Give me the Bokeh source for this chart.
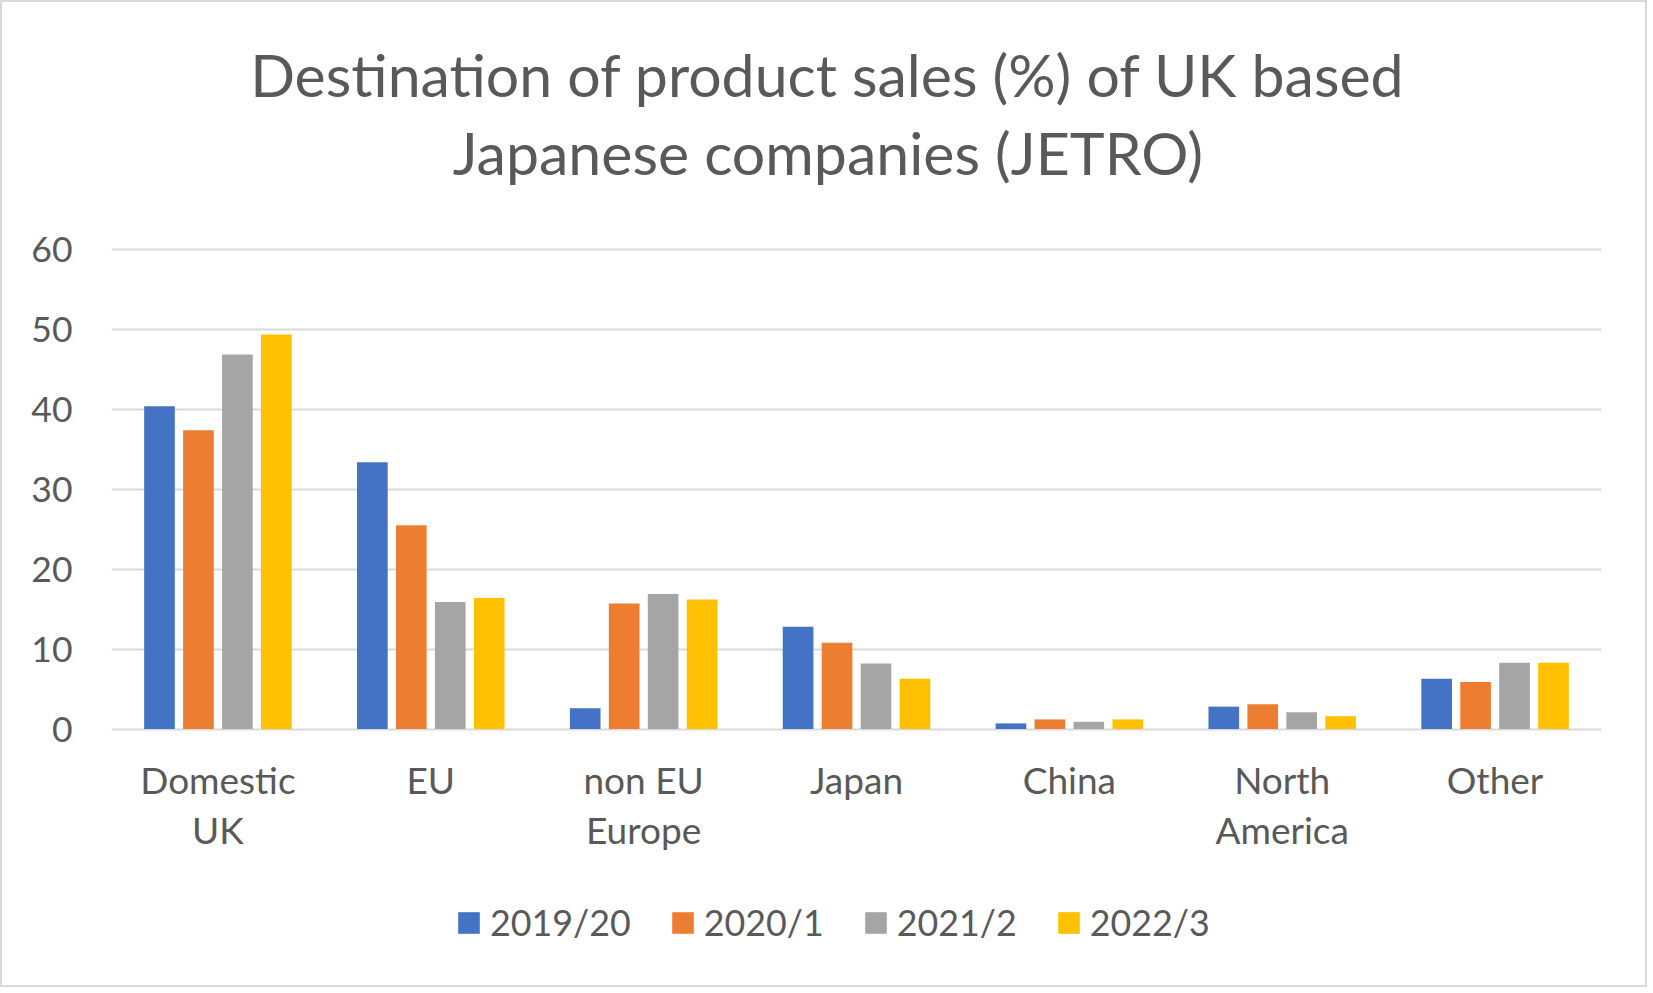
from bokeh.plotting import figure
from bokeh.models import (ColumnDataSource, FactorRange, Range1d, FixedTicker,
                          Legend, LegendItem, Label)
from bokeh.transform import dodge
from bokeh.embed import file_html
from bokeh.resources import INLINE

categories = ["Domestic\nUK", "EU", "non EU\nEurope", "Japan", "China", "North\nAmerica", "Other"]
series_names = ["2019/20", "2020/1", "2021/2", "2022/3"]
s2019_20 = [40.4, 33.4, 2.6, 12.8, 0.7, 2.8, 6.3]
s2020_1 = [37.4, 25.5, 15.7, 10.8, 1.2, 3.1, 5.9]
s2021_2 = [46.9, 15.9, 16.9, 8.2, 0.9, 2.1, 8.3]
s2022_3 = [49.4, 16.4, 16.2, 6.3, 1.2, 1.6, 8.3]
y_ticks = [0, 10, 20, 30, 40, 50, 60]
title_lines = ["Destination of product sales (%) of UK based", "Japanese companies (JETRO)"]

colors = ["#4472C4", "#ED7D31", "#A5A5A5", "#FFC000"]
FONT = "Lato"
TXT = "#595959"

source = ColumnDataSource(dict(cat=categories, a=s2019_20, b=s2020_1, c=s2021_2, d=s2022_3))

W, H = 1647, 987
TOP, BOT = 20, 10
y0_px, y60_px = 726.5, 247.3          # pixel rows of 0 and 60 inside the figure
ppu = (y0_px - y60_px) / 60.0
y_end = 60 + (y60_px - TOP) / ppu
y_start = -((H - BOT) - y0_px) / ppu

p = figure(width=W, height=H, x_range=FactorRange(*categories, range_padding=0),
           y_range=Range1d(y_start, y_end), output_backend="svg", toolbar_location=None,
           title=None,
           min_border_left=109, min_border_right=48, min_border_top=TOP, min_border_bottom=BOT)
p.styles = {"border": "2px solid #d9d9d9"}
p.outline_line_color = None
p.background_fill_color = "white"
p.border_fill_color = "white"

pitch = 0.183
bw = 0.144
offsets = [-1.5 * pitch, -0.5 * pitch, 0.5 * pitch, 1.5 * pitch]
items = []
for col, off, colr, name in zip(["a", "b", "c", "d"], offsets, colors, series_names):
    r = p.vbar(x=dodge("cat", off, range=p.x_range), top=col, width=bw, bottom=0,
               source=source, fill_color=colr, line_color=None)
    items.append(LegendItem(label=name, renderers=[r]))

p.xgrid.grid_line_color = None
p.ygrid.grid_line_color = "#d9d9d9"
p.ygrid.grid_line_width = 2.2
p.ygrid.level = "underlay"
p.yaxis.ticker = FixedTicker(ticks=y_ticks)

for ax in (p.xaxis, p.yaxis):
    ax.axis_line_color = None
    ax.major_tick_line_color = None
    ax.minor_tick_line_color = None
    ax.major_tick_out = 0
    ax.major_tick_in = 0
    ax.major_label_text_font = FONT
    ax.major_label_text_color = TXT
p.xaxis.fixed_location = 0
p.yaxis.major_label_text_font_size = "35.5px"
p.xaxis.major_label_text_font_size = "37px"
p.yaxis.major_label_standoff = 39
p.xaxis.major_label_standoff = 28
p.xaxis.major_label_text_line_height = 1.12

legend = Legend(items=items, orientation="horizontal", location=(344, 35),
                label_text_font=FONT, label_text_color=TXT, label_text_font_size="35.8px",
                glyph_width=27, glyph_height=27, label_standoff=8, spacing=38,
                border_line_color=None, background_fill_alpha=0, margin=0, padding=0)
p.add_layout(legend)

title_y = [82.0, 72.2]
for t, yv in zip(title_lines, title_y):
    p.add_layout(Label(x=3.366, y=yv, text=t, text_align="center", text_baseline="alphabetic",
                       text_font=FONT, text_font_size="59px", text_color=TXT))

open("out.html", "w").write(file_html(p, INLINE))
